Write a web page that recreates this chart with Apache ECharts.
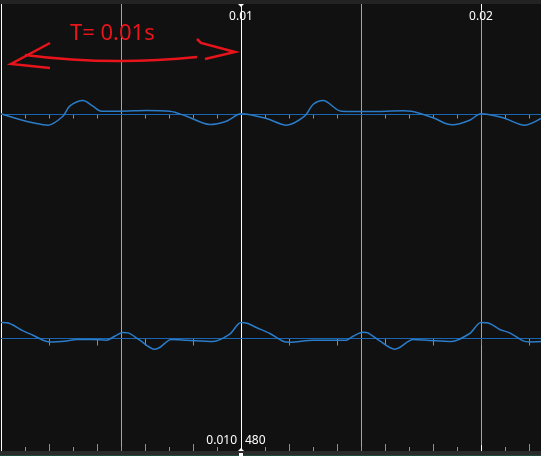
<!DOCTYPE html>
<html>
<head>
<meta charset="utf-8">
<style>
html,body{margin:0;padding:0;background:#111111;}
#chart{width:541px;height:456px;}
</style>
<script src="https://cdn.jsdelivr.net/npm/echarts@6/dist/echarts.min.js"></script>
</head>
<body>
<div id="chart"></div>
<script>
// ---- data (time in ms, values in display units relative to each trace's baseline) ----
var topTimeMs = [0.0, 0.78, 1.33, 1.96, 2.58, 2.86, 3.42, 3.83, 4.18, 4.95, 6.06, 7.03, 7.73, 8.70, 9.39,
  10.0, 11.06, 11.89, 12.65, 13.0, 13.42, 14.18, 15.36, 16.75, 17.1, 18.0, 18.56, 18.83, 19.53,
  20.0, 20.92, 21.82, 22.5];
var topValues = [0.7, -5, -8.3, -10.7, -1.7, 8.3, 14, 8.3, 3.3, 3.3, 4, 3.3, -1.7, -10, -6.7,
  0.7, -4, -10.7, -1.7, 10, 14, 3.3, 3, 3.7, 3.3, -3.3, -9.3, -10.3, -5.7,
  0.7, -3.3, -10.7, -4];

var bottomTimeMs = [0.0, 0.36, 0.92, 1.33, 1.75, 2.03, 2.73, 3.14, 3.83, 4.39, 4.74, 5.08, 5.29, 5.78, 6.40, 6.61,
  7.10, 7.73, 8.83, 9.53, 10.0, 10.29, 10.64, 11.2, 11.75, 12.03, 13.0, 14.39, 14.67, 15.08, 15.29, 15.78,
  16.40, 16.61, 17.17, 17.86, 18.77, 19.53, 20.0, 20.36, 20.78, 21.2, 21.75, 22.03, 22.5];
var bottomValues = [16, 15, 7.6, 3.3, -1.7, -3.4, -2.4, -1, -1, -1.7, 2.3, 6, 5.6, -1.7, -10.7, -9,
  -1, -1.7, -3, 4.3, 16, 15, 11, 5, -2.7, -3.7, -1.7, -1.7, 2.3, 6.3, 5.6, -2.4,
  -10.7, -9, -1, -2, -3, 5, 16, 15, 9, 5.6, -2.4, -3.4, -3];

var axisLabelsMs = [10, 20];          // labelled time ticks (ms)
var cursorTimesMs = [0, 10];          // white cursor lines
var cursorReadoutTime = '0.010';
var cursorReadoutValue = '480';
var annotationText = 'T= 0.01s';

// ---- build ----
function zip(a, b) { return a.map(function (v, i) { return [v, b[i]]; }); }

var chart = echarts.init(document.getElementById('chart'), null, { renderer: 'canvas' });
var FONT = 'Noto Sans';
var TICK = '#8e8e8e';
var SPLIT = '#a3a3a3';
var TRACE = '#2b7cc9';
var BASE = '#1b64b0';

function xAx(pos, interval, len, color, extra) {
  var o = {
    type: 'value', position: pos, min: 0, max: 22.5, interval: interval,
    axisLine: { show: false },
    axisTick: { show: len > 0, inside: true, length: len, lineStyle: { color: color, width: 1 } },
    axisLabel: { show: false },
    splitLine: { show: false }
  };
  if (extra) { for (var k in extra) o[k] = extra[k]; }
  return o;
}
function cursorLabel(text, align, pad) {
  return {
    show: true, inside: true, margin: 4, color: '#ffffff', fontSize: 12, fontFamily: FONT,
    showMinLabel: false, showMaxLabel: false, align: align, padding: pad,
    formatter: function (v) { return Math.round(v) === cursorTimesMs[1] ? text : ''; }
  };
}

var option = {
  backgroundColor: '#111111',
  animation: false,
  grid: { left: 1, right: 0, top: 4, bottom: 5, outerBoundsMode: 'none', containLabel: false },
  xAxis: [
    xAx('top', 1, 4, TICK),
    xAx('top', 2, 7, TICK),
    xAx('bottom', 1, 4, TICK),
    xAx('bottom', 2, 7, TICK),
    xAx('top', 5, 0, TICK, { splitLine: { show: true, lineStyle: { color: SPLIT, width: 1 } } }),
    xAx('top', 10, 6, '#ffffff', {
      axisLabel: {
        show: true, inside: true, margin: 7, color: '#ffffff', fontSize: 12, fontFamily: FONT,
        showMinLabel: false, showMaxLabel: false,
        formatter: function (v) { return axisLabelsMs.indexOf(Math.round(v)) >= 0 ? String(v / 1000) : ''; }
      }
    }),
    xAx('bottom', 10, 6, '#ffffff', { axisLabel: cursorLabel(cursorReadoutTime, 'right', [0, 4, 0, 0]) }),
    xAx('bottom', 10, 0, '#ffffff', { axisLabel: cursorLabel(cursorReadoutValue, 'left', [0, 0, 0, 4]) })
  ],
  yAxis: [
    { type: 'value', min: -336.5, max: 110.5, show: false, splitLine: { show: false } },
    { type: 'value', min: -112.5, max: 334.5, show: false, splitLine: { show: false } }
  ],
  series: [
    {
      name: 'cursors', type: 'line', xAxisIndex: 0, yAxisIndex: 0, data: [], z: 3,
      markLine: {
        silent: true, symbol: ['none', 'none'], label: { show: false },
        lineStyle: { color: '#ffffff', width: 1, type: 'solid' },
        emphasis: { disabled: true },
        data: cursorTimesMs.map(function (t) { return { xAxis: t }; })
      },
      markPoint: {
        silent: true, label: { show: false }, itemStyle: { color: '#ffffff' },
        data: [
          { coord: [cursorTimesMs[1], 110.5], symbol: 'triangle', symbolRotate: 180, symbolSize: [6, 3], symbolOffset: [0, 1.5] }
        ]
      }
    },
    {
      name: 'cursorsBottom', type: 'line', xAxisIndex: 0, yAxisIndex: 1, data: [], z: 3,
      markPoint: {
        silent: true, label: { show: false }, itemStyle: { color: '#ffffff' },
        data: [
          { coord: [cursorTimesMs[1], -112.5], symbol: 'triangle', symbolSize: [6, 3], symbolOffset: [0, -1.5] },
          { coord: [cursorTimesMs[1], -112.5], symbol: 'rect', symbolSize: [4, 3], symbolOffset: [0, 3.5] }
        ]
      }
    },
    {
      name: 'top', type: 'line', xAxisIndex: 0, yAxisIndex: 0, data: zip(topTimeMs, topValues),
      showSymbol: false, smooth: 0.3, z: 5,
      lineStyle: { color: TRACE, width: 1.5 },
      markLine: {
        silent: true, symbol: ['none', 'none'], label: { show: false },
        lineStyle: { color: BASE, width: 1, type: 'solid' },
        emphasis: { disabled: true },
        data: [{ yAxis: 0 }]
      }
    },
    {
      name: 'bottom', type: 'line', xAxisIndex: 0, yAxisIndex: 1, data: zip(bottomTimeMs, bottomValues),
      showSymbol: false, smooth: 0.3, z: 5,
      lineStyle: { color: TRACE, width: 1.5 },
      markLine: {
        silent: true, symbol: ['none', 'none'], label: { show: false },
        lineStyle: { color: BASE, width: 1, type: 'solid' },
        emphasis: { disabled: true },
        data: [{ yAxis: 0 }]
      }
    }
  ],
  graphic: [
    { type: 'rect', z: -1, shape: { x: 0, y: 0, width: 541, height: 4 }, style: { fill: '#232323' } },
    { type: 'rect', z: -1, shape: { x: 0, y: 451, width: 541, height: 4 }, style: { fill: '#2b2b2b' } },
    { type: 'rect', z: -1, shape: { x: 0, y: 455, width: 541, height: 1 }, style: { fill: '#1d4a3c' } },
    { type: 'text', z: 100, x: 70, y: 34, style: { text: annotationText, fill: '#e8141c', font: '22px "' + FONT + '"', textVerticalAlign: 'middle' } },
    { type: 'bezierCurve', z: 100, shape: { x1: 25, y1: 55, x2: 197, y2: 57, cpx1: 110, cpy1: 66 }, style: { stroke: '#e8141c', lineWidth: 2.5, fill: null } },
    { type: 'polyline', z: 100, shape: { points: [[50, 43], [11, 64], [50, 68]] }, style: { stroke: '#e8141c', lineWidth: 2.5, fill: null } },
    { type: 'polyline', z: 100, shape: { points: [[197, 39], [201, 43], [235, 52], [205, 59]] }, style: { stroke: '#e8141c', lineWidth: 2.5, fill: null } }
  ]
};
chart.setOption(option);
</script>
</body>
</html>
